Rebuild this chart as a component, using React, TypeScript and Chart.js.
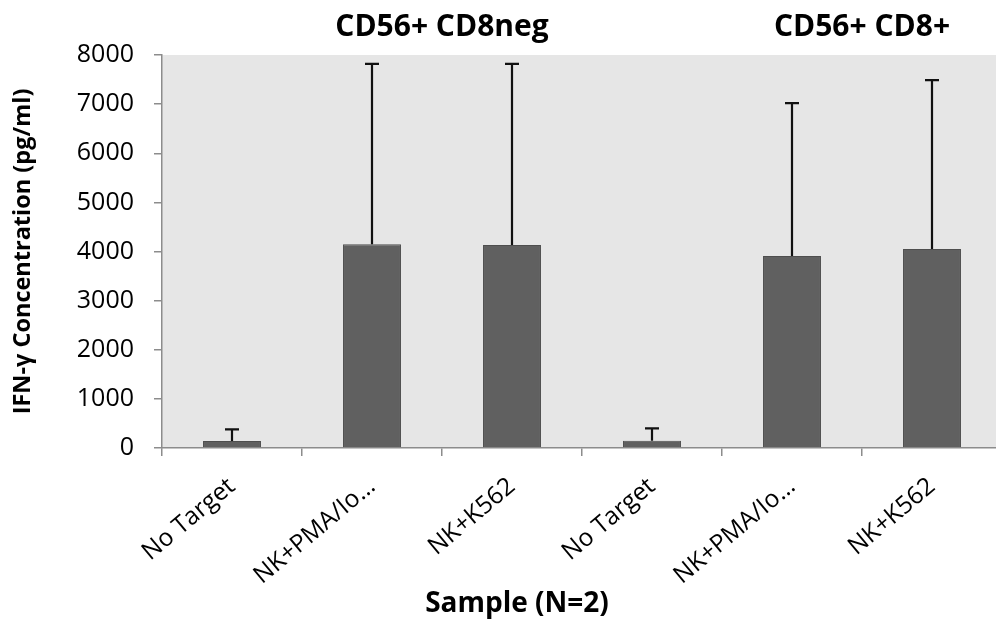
import React, { useEffect, useRef } from "react";
import { Chart, registerables } from "chart.js";

Chart.register(...registerables);

const categories = ["No Target", "NK+PMA/Io…", "NK+K562", "No Target", "NK+PMA/Io…", "NK+K562"];
const means = [140, 4150, 4130, 150, 3910, 4050];
const errorsPlus = [240, 3670, 3690, 250, 3110, 3440];
const yMin = 0;
const yMax = 8000;
const yStep = 1000;
const groupTitles = ["CD56+ CD8neg", "CD56+ CD8+"];
const groupCenters = [1.5, 4.5];
const yTitle = "IFN-γ Concentration (pg/ml)";
const xTitle = "Sample (N=2)";

const FONT = "'Open Sans', 'DejaVu Sans', sans-serif";

export default function App() {
  const ref = useRef<HTMLCanvasElement | null>(null);

  useEffect(() => {
    const canvas = ref.current;
    if (!canvas) return;

    const bgPlugin = {
      id: "plotBg",
      beforeDraw(chart: any) {
        const { ctx, chartArea: a } = chart;
        ctx.save();
        ctx.fillStyle = "#e6e6e6";
        ctx.fillRect(a.left, a.top, a.right - a.left, a.bottom - a.top);
        ctx.restore();
      },
    };

    const errPlugin = {
      id: "errBars",
      afterDatasetsDraw(chart: any) {
        const { ctx } = chart;
        const yScale = chart.scales.y;
        const meta = chart.getDatasetMeta(0);
        ctx.save();
        ctx.strokeStyle = "#111111";
        ctx.lineWidth = 2.2;
        meta.data.forEach((el: any, i: number) => {
          const x = el.x;
          const y0 = el.y;
          const y1 = yScale.getPixelForValue(means[i] + errorsPlus[i]);
          ctx.beginPath();
          ctx.moveTo(x, y0);
          ctx.lineTo(x, y1);
          ctx.moveTo(x - 7, y1);
          ctx.lineTo(x + 7, y1);
          ctx.stroke();
        });
        ctx.restore();
      },
    };

    const titlePlugin = {
      id: "titles",
      afterDraw(chart: any) {
        const { ctx, chartArea: a } = chart;
        const xScale = chart.scales.x;
        ctx.save();
        ctx.fillStyle = "#000000";
        ctx.textAlign = "center";
        ctx.textBaseline = "middle";
        ctx.font = `bold 30px ${FONT}`;
        groupTitles.forEach((t, i) => {
          ctx.fillText(t, xScale.getPixelForValue(groupCenters[i]), 27);
        });
        ctx.font = `bold 28px ${FONT}`;
        ctx.fillText(xTitle, 517, 604);
        ctx.save();
        ctx.translate(23, (a.top + a.bottom) / 2);
        ctx.rotate(-Math.PI / 2);
        ctx.font = `bold 23.5px ${FONT}`;
        ctx.fillText(yTitle, 0, 0);
        ctx.restore();
        ctx.restore();
      },
    };

    const chart = new Chart(canvas, {
      type: "bar",
      data: {
        labels: categories,
        datasets: [
          {
            data: means,
            backgroundColor: "#606060",
            borderColor: "#4e4e4e",
            borderWidth: 1,
            categoryPercentage: 1,
            barPercentage: 0.414,
          },
        ],
      },
      options: {
        responsive: false,
        animation: false,
        devicePixelRatio: 1,
        layout: { padding: { top: 55, right: 8, left: 0, bottom: 0 } },
        plugins: {
          legend: { display: false },
          tooltip: { enabled: false },
          title: { display: false },
        },
        scales: {
          x: {
            offset: true,
            grid: {
              offset: true,
              drawOnChartArea: false,
              drawTicks: true,
              tickLength: 8,
              color: "#8c8c8c",
              lineWidth: 1.5,
            },
            border: { color: "#8c8c8c", width: 1.5 },
            ticks: {
              autoSkip: false,
              maxRotation: 40,
              minRotation: 40,
              padding: 16,
              color: "#000000",
              font: { family: FONT, size: 24.5 },
            },
            afterFit(scale: any) {
              scale.height = 175;
            },
          },
          y: {
            min: yMin,
            max: yMax,
            ticks: {
              stepSize: yStep,
              padding: 20,
              color: "#000000",
              font: { family: FONT, size: 25 },
              callback: (v: any) => String(v),
            },
            grid: {
              drawOnChartArea: false,
              drawTicks: true,
              tickLength: 8,
              color: "#8c8c8c",
              lineWidth: 1.5,
            },
            border: { color: "#8c8c8c", width: 1.5 },
            afterFit(scale: any) {
              scale.width = 162;
            },
          },
        },
      },
      plugins: [bgPlugin, errPlugin, titlePlugin],
    });

    return () => chart.destroy();
  }, []);

  return (
    <div
      style={{
        position: "fixed",
        left: 0,
        top: 0,
        width: 996,
        height: 623,
        overflow: "hidden",
        background: "#ffffff",
      }}
    >
      <canvas ref={ref} width={1010} height={623} style={{ display: "block", width: 1010, height: 623 }} />
    </div>
  );
}
